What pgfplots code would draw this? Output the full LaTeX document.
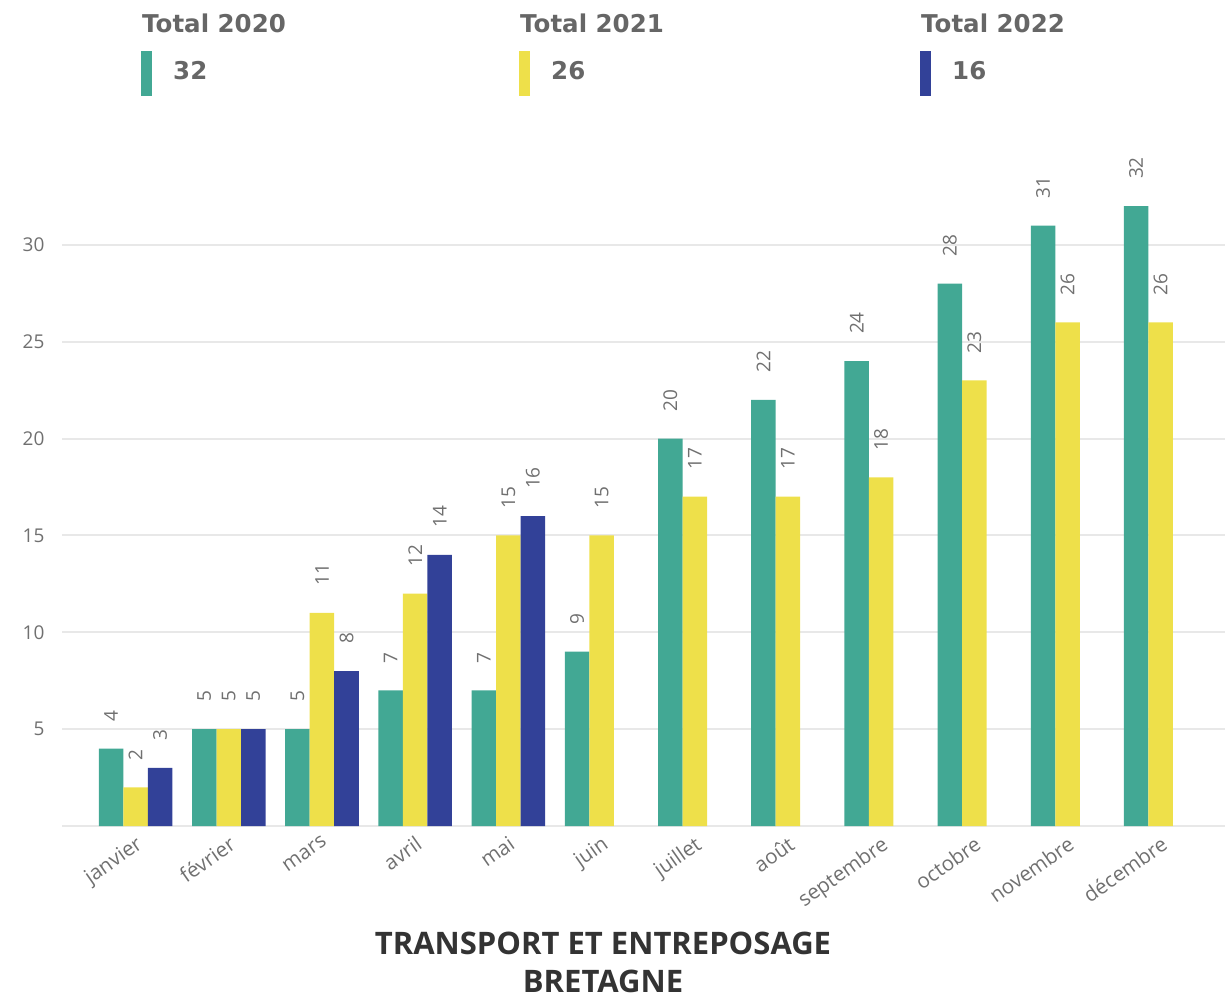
\documentclass[border=0pt]{standalone}
\usepackage{pgfplots}
\pgfplotsset{compat=1.18}
\usepackage{fontspec}
\setmainfont{Open Sans}
\newfontfamily\legfont{DejaVu Sans}
\definecolor{c20}{HTML}{42A894}
\definecolor{c21}{HTML}{EEE04A}
\definecolor{c22}{HTML}{324198}
\definecolor{txt}{HTML}{707070}
\definecolor{legtxt}{HTML}{666666}
\definecolor{ttl}{HTML}{333333}
\definecolor{gridc}{HTML}{E8E8E8}
\begin{document}
\begin{tikzpicture}
\begin{axis}[
    at={(0pt,0pt)}, anchor=south west,
    scale only axis,
    width=1163pt, height=658.6pt,
    xmin=-0.79, xmax=11.69,
    ymin=0, ymax=34,
    ybar=0pt, bar width=24.5pt,
    axis line style={draw=none},
    tick style={draw=none},
    xtick={0,...,11},
    xticklabels={janvier,février,mars,avril,mai,juin,juillet,août,septembre,octobre,novembre,décembre},
    xticklabel style={rotate=35, anchor=north east, font=\fontsize{20.5}{20.5}\selectfont, text=txt},
    ytick={5,10,...,30},
    yticklabel style={font=\fontsize{19}{19}\selectfont, text=txt, xshift=-14pt},
    /pgf/number format/assume math mode=true,
    ymajorgrids,
    grid style={gridc, line width=2pt},
    extra y ticks={0}, extra y tick labels={},
    clip=false,
    nodes near coords,
    every node near coord/.append style={font=\fontsize{19}{19}\selectfont, text=txt, anchor=west, rotate=90, inner sep=0pt, xshift=27pt},
]
\addplot[fill=c20, draw=none] coordinates {(0,4) (1,5) (2,5) (3,7) (4,7) (5,9) (6,20) (7,22) (8,24) (9,28) (10,31) (11,32)};
\addplot[fill=c21, draw=none] coordinates {(0,2) (1,5) (2,11) (3,12) (4,15) (5,15) (6,17) (7,17) (8,18) (9,23) (10,26) (11,26)};
\addplot[fill=c22, draw=none] coordinates {(0,3) (1,5) (2,8) (3,14) (4,16)};
\end{axis}
% header totals
\fill[c20] (79pt,730pt) rectangle (90pt,775pt);
\fill[c21] (457pt,730pt) rectangle (468pt,775pt);
\fill[c22] (858pt,730pt) rectangle (869pt,775pt);
\begin{scope}[every node/.style={anchor=base west, inner sep=0pt, text=legtxt, font=\legfont\bfseries\fontsize{24.5}{24.5}\selectfont}]
\node at (80pt,793pt) {Total 2020};
\node at (111pt,746pt) {32};
\node at (458pt,793pt) {Total 2021};
\node at (489pt,746pt) {26};
\node at (859pt,793pt) {Total 2022};
\node at (890pt,746pt) {16};
\end{scope}
\node[anchor=base, inner sep=0pt, text=ttl, font=\bfseries\fontsize{31}{31}\selectfont] at (541pt,-128pt) {TRANSPORT ET ENTREPOSAGE};
\node[anchor=base, inner sep=0pt, text=ttl, font=\bfseries\fontsize{31}{31}\selectfont] at (541pt,-166pt) {BRETAGNE};
\pgfresetboundingbox
\useasboundingbox (-62pt,-171pt) rectangle (1163pt,826pt);
\end{tikzpicture}
\end{document}
